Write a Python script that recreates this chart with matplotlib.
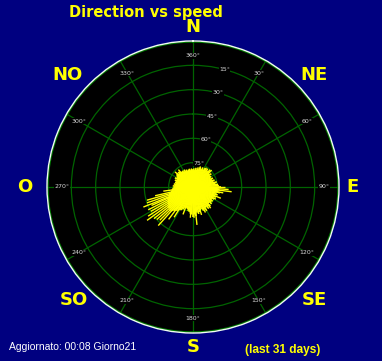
import numpy as np
import matplotlib
matplotlib.use('Agg')
import matplotlib.pyplot as plt

# ---- data (direction in deg, speed on the 0-90 ring scale)
core_dir = [0, 3, 6, 9, 12, 15, 18, 21, 24, 27, 30, 33, 36, 39, 42, 45, 48, 51, 54, 57,
            60, 63, 66, 69, 72, 75, 78, 81, 84, 87, 90, 93, 96, 99, 102, 105, 108, 111, 114, 117,
            120, 123, 126, 129, 132, 135, 138, 141, 144, 147, 150, 153, 156, 159, 162, 165, 168, 171, 174, 177,
            180, 183, 186, 189, 192, 195, 198, 201, 204, 207, 210, 213, 216, 219, 222, 225, 228, 231, 234, 237,
            240, 243, 246, 249, 252, 255, 258, 261, 264, 267, 270, 273, 276, 279, 282, 285, 288, 291, 294, 297,
            300, 303, 306, 309, 312, 315, 318, 321, 324, 327, 330, 333, 336, 339, 342, 345, 348, 351, 354, 357]
core_spd = [11, 11.5, 10.5, 12, 11, 12.5, 11.5, 13, 12, 13.5, 12.5, 14, 13, 14.5, 13.5, 15, 14, 13, 14, 12.5,
            13, 12, 13.5, 12.5, 14, 13, 15, 14, 15.5, 16, 17, 15, 16.5, 15.5, 17, 15, 16, 14.5, 15.5, 14,
            15, 14, 15, 14.5, 15.5, 14, 16, 15, 16.5, 15, 17, 15.5, 16, 14.5, 15, 16, 17, 16, 18, 17,
            18.5, 17, 16.5, 15.5, 15, 14, 13.5, 14, 15, 16, 16.5, 17.5, 18, 19, 20, 20.5, 19.5, 20, 19, 18.5,
            18, 17.5, 17, 16, 15.5, 15, 14, 13.5, 13, 12.5, 12, 12.5, 11.5, 12, 11, 11.5, 11, 12, 11, 12.5,
            11.5, 12, 12.5, 13, 12, 13, 12.5, 12, 11.5, 12, 11, 12, 11, 11.5, 10.5, 11, 11.5, 10.5, 11, 10.5]

spike_dir = [97, 94, 90, 101, 112, 118, 140, 154, 163, 174, 178, 185, 200, 212, 217, 222, 225, 228, 231,
             234, 237, 240, 243, 246, 248, 251, 254, 257, 262, 48, 35, 20, 320, 310, 355]
spike_spd = [24, 22, 20, 19, 18.5, 16, 17, 17.5, 18, 23.5, 19, 19, 18, 22, 25, 32, 29, 30, 31,
             35, 33, 30, 31, 28, 33, 30, 29.5, 24, 18.5, 15.5, 14.5, 13.5, 14, 14.5, 11.5]

az_ticks = [0, 30, 60, 90, 120, 150, 180, 210, 240, 270, 300, 330]
elev_rings = [15, 30, 45, 60, 75]
elev_labels = ['75°', '60°', '45°', '30°', '15°']
compass = ['N', 'NE', 'E', 'SE', 'S', 'SO', 'O', 'NO']

W, H = 382, 361
fig = plt.figure(figsize=(W / 100, H / 100), dpi=100, facecolor='#000080')
ax = fig.add_axes([47 / W, 28 / H, 292 / W, 292 / H], projection='polar')
ax.set_facecolor('black')
ax.set_theta_zero_location('N')
ax.set_theta_direction(-1)
ax.set_ylim(0, 90)
ax.set_xticks(np.radians(az_ticks))
ax.set_xticklabels([])
ax.set_yticks(elev_rings)
ax.set_yticklabels([])
ax.grid(color='#006400', lw=0.9)
ax.spines['polar'].set_color('#f0fff0')
ax.spines['polar'].set_linewidth(1.0)
# green ring just inside the white rim
th = np.linspace(0, 2 * np.pi, 361)
ax.plot(th, np.full_like(th, 89.3), color='#008000', lw=0.8)

for a in az_ticks:
    ax.text(np.radians(a), 81, '%d°' % (a if a else 360), color='#d8d8d8', fontsize=4.5,
            ha='center', va='center', bbox=dict(fc='black', ec='none', pad=0.3))
for r, lab in zip(elev_rings, elev_labels):
    ax.text(np.radians(15), r, lab, color='#d8d8d8', fontsize=4.5,
            ha='center', va='center', bbox=dict(fc='black', ec='none', pad=0.3))

ax.vlines(np.radians(core_dir), 0, core_spd, color='yellow', lw=1.2, zorder=5)
ax.vlines(np.radians(spike_dir), 0, spike_spd, color='yellow', lw=1.0, zorder=5)

# compass letters around the dial
pos = [(193, 27), (314, 75), (353, 187), (314, 300), (193, 347), (74, 300), (25, 187), (68, 75)]
for lab, (x, y) in zip(compass, pos):
    fig.text(x / W, 1 - y / H, lab, color='yellow', fontsize=13, fontweight='bold',
             ha='center', va='center')

fig.text(146 / W, 1 - 12 / H, 'Direction vs speed', color='yellow', fontsize=10.5,
         fontweight='bold', ha='center', va='center')
fig.text(9 / W, 1 - 347 / H, 'Aggiornato: 00:08 Giorno21', color='white', fontsize=7.5,
         family='Liberation Sans', ha='left', va='center')
fig.text(283 / W, 1 - 350 / H, '(last 31 days)', color='yellow', fontsize=8.6,
         family='Liberation Sans', fontweight='bold', ha='center', va='center')

plt.savefig('out.png', dpi=100, facecolor=fig.get_facecolor())
